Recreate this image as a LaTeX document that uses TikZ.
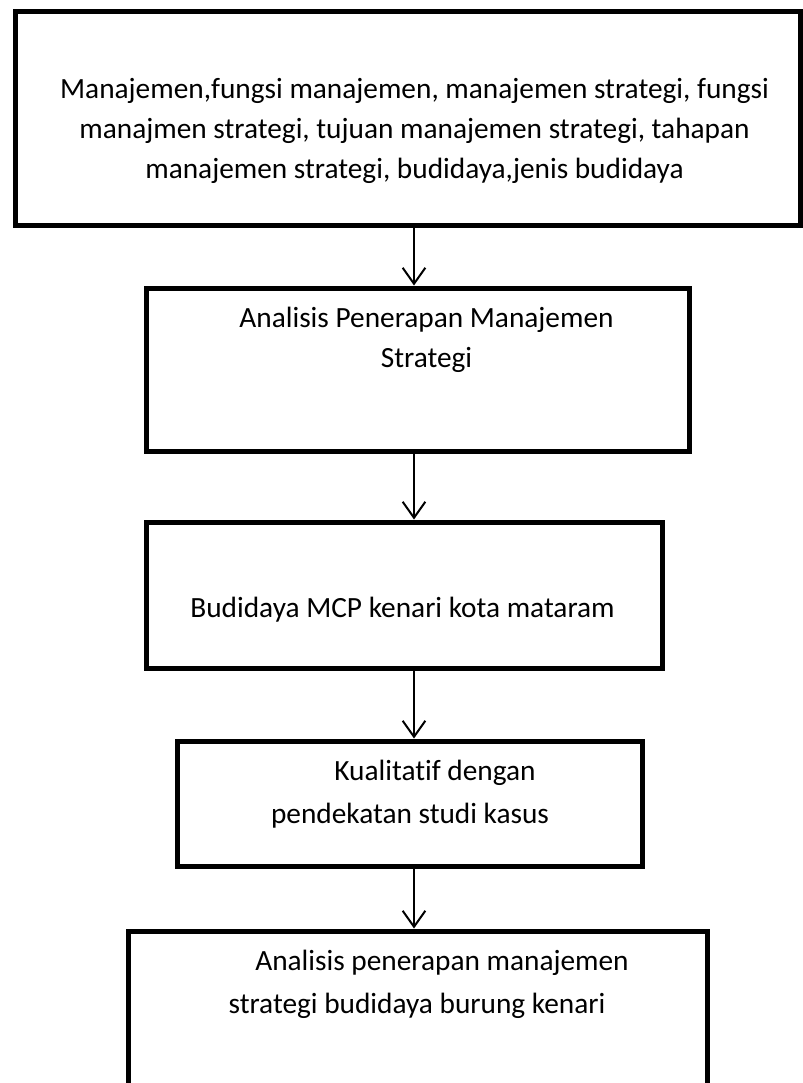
\documentclass[tikz,border=0pt]{standalone}
\usepackage{fontspec}
\setmainfont{Carlito}[Ligatures=NoCommon]
\usetikzlibrary{arrows.meta}
\begin{document}
\begin{tikzpicture}[x=0.75pt, y=-0.75pt,
  kotak/.style={draw, line width=3.75pt, inner sep=0pt},
  teks/.style={anchor=base, align=center, inner sep=0pt, font=\fontsize{22}{30}\selectfont},
  alur/.style={-{Straight Barb[length=12pt,width=17pt]}, line width=1.5pt}]
\clip (0,0) rectangle (803,1083);
% kotak-kotak alur
\node[kotak, minimum width=588.75pt, minimum height=160.5pt] (teori) at (407.5,118) {};
\node[kotak, minimum width=407.25pt, minimum height=122.25pt] (analisis) at (417.5,369.5) {};
\node[kotak, minimum width=387pt, minimum height=109.5pt] (budidaya) at (404,595) {};
\node[kotak, minimum width=348.75pt, minimum height=93.75pt] (metode) at (409.5,803.5) {};
\node[kotak, minimum width=434.25pt, minimum height=134.25pt] (hasil) at (417.5,1020.5) {};
% isi teks (titik = garis dasar baris terakhir)
\node[teks] (teoriteks) at (414.5,178) {Manajemen,fungsi manajemen, manajemen strategi, fungsi\\manajmen strategi, tujuan manajemen strategi, tahapan\\manajemen strategi, budidaya,jenis budidaya};
\node[teks] (analisisteks) at (426.5,367) {Analisis Penerapan Manajemen\\Strategi};
\node[teks] (budidayateks) at (402.5,617) {Budidaya MCP kenari kota mataram};
\node[teks, font=\fontsize{22}{32.25}\selectfont] (metodeteks) at (410,823) {\hspace*{37.5pt}Kualitatif dengan\\pendekatan studi kasus};
\node[teks, font=\fontsize{22}{32.25}\selectfont] (hasilteks) at (417,1013) {\hspace*{37.5pt}Analisis penerapan manajemen\\strategi budidaya burung kenari};
% panah
\coordinate (poros) at (414,0);
\draw[alur] (teori.south -| poros) -- (analisis.north -| poros);
\draw[alur] (analisis.south -| poros) -- (budidaya.north -| poros);
\draw[alur] (budidaya.south -| poros) -- (metode.north -| poros);
\draw[alur] (metode.south -| poros) -- (hasil.north -| poros);
\end{tikzpicture}
\end{document}
